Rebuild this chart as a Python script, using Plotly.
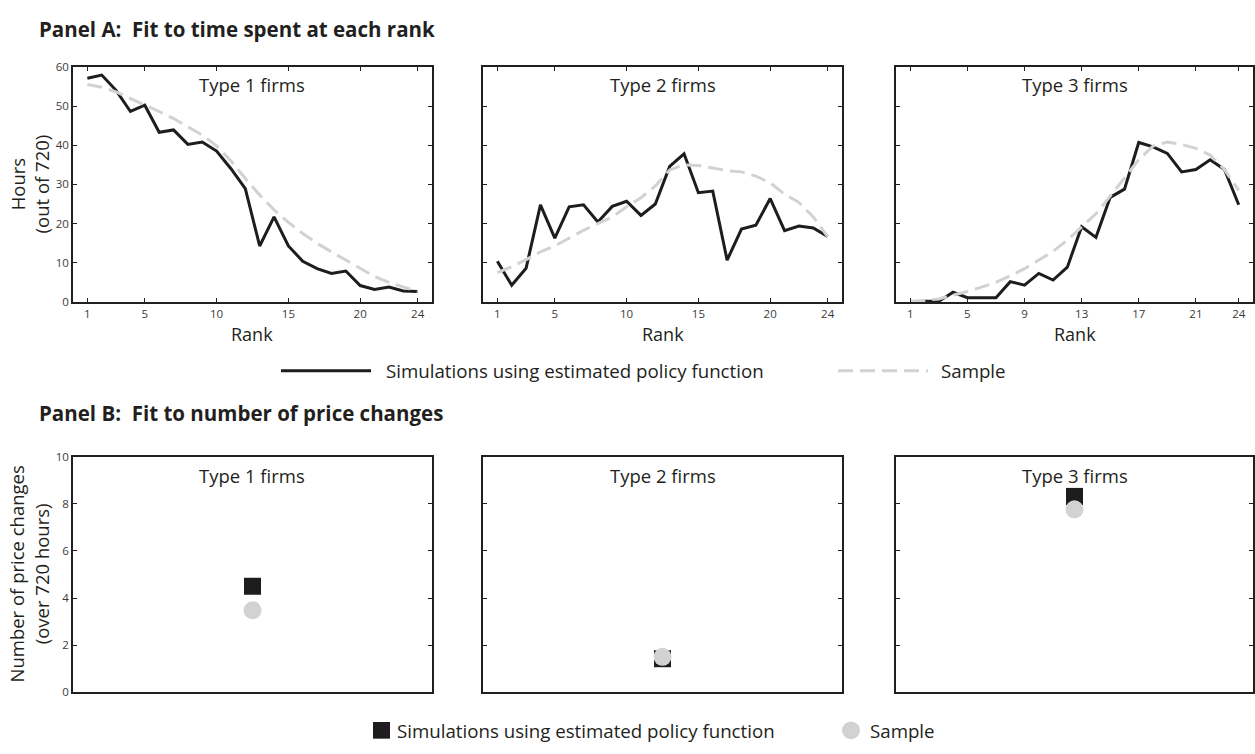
import plotly.graph_objects as go

# ---------------- data ----------------
ranks = list(range(1, 25))

type1_sim = [57.1, 57.9, 54.0, 48.6, 50.2, 43.3, 43.9, 40.2, 40.8, 38.5, 34.0, 28.9,
             14.3, 21.7, 14.3, 10.4, 8.5, 7.3, 7.9, 4.2, 3.2, 3.8, 2.8, 2.7]
type1_sample = [55.5, 54.8, 53.6, 52.0, 50.4, 48.6, 46.8, 44.8, 42.6, 39.8, 36.0, 31.5,
                27.3, 23.5, 20.3, 17.5, 15.0, 12.8, 10.7, 8.5, 6.5, 5.0, 3.8, 2.7]

type2_sim = [10.4, 4.3, 8.6, 24.8, 16.3, 24.3, 24.8, 20.4, 24.4, 25.7, 22.1, 25.0,
             34.6, 37.8, 27.9, 28.3, 10.7, 18.6, 19.6, 26.4, 18.2, 19.4, 18.9, 16.7]
type2_sample = [7.5, 9.0, 10.8, 12.8, 14.3, 16.4, 18.3, 20.0, 21.7, 24.3, 26.6, 29.6,
                33.7, 35.0, 34.8, 34.2, 33.5, 33.2, 32.1, 30.4, 27.5, 25.4, 21.7, 16.7]

type3_sim = [0.0, 0.2, 0.2, 2.5, 1.1, 1.1, 1.1, 5.2, 4.3, 7.3, 5.6, 8.9,
             19.2, 16.5, 26.7, 28.8, 40.7, 39.6, 37.9, 33.2, 33.8, 36.3, 33.8, 24.8]
type3_sample = [0.2, 0.4, 0.8, 1.7, 2.7, 3.8, 5.0, 6.7, 8.5, 10.7, 12.9, 15.8,
                19.2, 22.5, 27.0, 31.7, 36.3, 39.8, 40.8, 40.2, 39.2, 37.5, 33.8, 28.5]

firm_types = ["Type 1 firms", "Type 2 firms", "Type 3 firms"]
price_changes_sim = [4.5, 1.42, 8.32]
price_changes_sample = [3.48, 1.5, 7.77]

rank_ticks = [[1, 5, 10, 15, 20, 24], [1, 5, 10, 15, 20, 24], [1, 5, 9, 13, 17, 21, 24]]
hours_ticks = [0, 10, 20, 30, 40, 50, 60]
price_ticks = [0, 2, 4, 6, 8, 10]

sim_by_type = [type1_sim, type2_sim, type3_sim]
sample_by_type = [type1_sample, type2_sample, type3_sample]

# ---------------- styling ----------------
W, H = 1255, 754
FONT = "Open Sans"
TXT = "#231f20"
BLACK = "#1e1c1d"
GREY = "#d2d2d2"
DASH = "15px,7px"


def fx(p):
    return p / W


def fy(p):
    return 1 - p / H


col_px = [(73, 432), (483, 842), (896, 1253)]
rowA_px = (60, 300)
rowB_px = (458, 698)

fig = go.Figure()
layout = dict(
    width=W, height=H,
    margin=dict(l=0, r=0, t=0, b=0),
    paper_bgcolor="white", plot_bgcolor="white",
    showlegend=False,
    font=dict(family=FONT, color=TXT),
)

axis_common = dict(
    showline=True, linecolor=TXT, linewidth=1.5, mirror="ticks",
    ticks="inside", ticklen=4, tickwidth=1, tickcolor=TXT,
    showgrid=False, zeroline=False,
    tickfont=dict(family=FONT, size=11.5, color="#3a3a3a"),
)

annotations = []
shapes = []

# Panel A
for i in range(3):
    n = i + 1
    xa = "xaxis" if n == 1 else f"xaxis{n}"
    ya = "yaxis" if n == 1 else f"yaxis{n}"
    layout[xa] = dict(axis_common, domain=[fx(col_px[i][0]), fx(col_px[i][1])],
                      range=[0, 25], tickvals=rank_ticks[i], anchor=f"y{n if n > 1 else ''}")
    layout[ya] = dict(axis_common, domain=[fy(rowA_px[1]), fy(rowA_px[0])],
                      range=[0, 60], tickvals=hours_ticks, showticklabels=(i == 0),
                      anchor=f"x{n if n > 1 else ''}")
    xr = f"x{n if n > 1 else ''}"
    yr = f"y{n if n > 1 else ''}"
    fig.add_trace(go.Scatter(x=ranks, y=sim_by_type[i], mode="lines",
                             line=dict(color=BLACK, width=3),
                             name="Simulations using estimated policy function",
                             xaxis=xr, yaxis=yr))
    fig.add_trace(go.Scatter(x=ranks, y=sample_by_type[i], mode="lines",
                             line=dict(color=GREY, width=3, dash=DASH),
                             name="Sample", xaxis=xr, yaxis=yr))
    cx = (col_px[i][0] + col_px[i][1]) / 2
    annotations.append(dict(text=firm_types[i], x=fx(cx), y=fy(78), xref="paper", yref="paper",
                            showarrow=False, xanchor="center", yanchor="middle",
                            font=dict(size=18.5, family=FONT, color=TXT)))
    annotations.append(dict(text="Rank", x=fx(cx), y=fy(333), xref="paper", yref="paper",
                            showarrow=False, xanchor="center", yanchor="middle",
                            font=dict(size=18, family=FONT, color=TXT)))

# Panel B
for i in range(3):
    n = i + 4
    xa = f"xaxis{n}"
    ya = f"yaxis{n}"
    layout[xa] = dict(axis_common, domain=[fx(col_px[i][0]), fx(col_px[i][1])],
                      range=[0, 2], ticks="", showticklabels=False, anchor=f"y{n}")
    layout[ya] = dict(axis_common, domain=[fy(rowB_px[1]), fy(rowB_px[0])],
                      range=[0, 10], tickvals=price_ticks, showticklabels=(i == 0),
                      anchor=f"x{n}")
    fig.add_trace(go.Scatter(x=[1], y=[price_changes_sim[i]], mode="markers",
                             marker=dict(symbol="square", size=17, color=BLACK),
                             name="Simulations using estimated policy function",
                             xaxis=f"x{n}", yaxis=f"y{n}"))
    fig.add_trace(go.Scatter(x=[1], y=[price_changes_sample[i]], mode="markers",
                             marker=dict(symbol="circle", size=18, color=GREY),
                             name="Sample", xaxis=f"x{n}", yaxis=f"y{n}"))
    cx = (col_px[i][0] + col_px[i][1]) / 2
    annotations.append(dict(text=firm_types[i], x=fx(cx), y=fy(477), xref="paper", yref="paper",
                            showarrow=False, xanchor="center", yanchor="middle",
                            font=dict(size=18.5, family=FONT, color=TXT)))

# Panel titles
annotations.append(dict(text="<b>Panel A:\u00a0 Fit to time spent at each rank</b>",
                        x=fx(37), y=fy(21), xref="paper", yref="paper", showarrow=False,
                        xanchor="left", yanchor="middle", font=dict(size=20.5, family=FONT, color=TXT)))
annotations.append(dict(text="<b>Panel B:\u00a0 Fit to number of price changes</b>",
                        x=fx(37), y=fy(413), xref="paper", yref="paper", showarrow=False,
                        xanchor="left", yanchor="middle", font=dict(size=20.5, family=FONT, color=TXT)))

# Y-axis titles
annotations.append(dict(text="Hours<br>(out of 720)", x=fx(29), y=fy(180), xref="paper", yref="paper",
                        showarrow=False, textangle=-90, xanchor="center", yanchor="middle",
                        font=dict(size=18.5, family=FONT, color=TXT)))
annotations.append(dict(text="Number of price changes<br>(over 720 hours)", x=fx(29), y=fy(578),
                        xref="paper", yref="paper", showarrow=False, textangle=-90,
                        xanchor="center", yanchor="middle",
                        font=dict(size=18.5, family=FONT, color=TXT)))

# Legend A
LA = 370
shapes.append(dict(type="line", xref="paper", yref="paper", x0=fx(281), x1=fx(371), y0=fy(LA), y1=fy(LA),
                   line=dict(color=BLACK, width=3)))
annotations.append(dict(text="Simulations using estimated policy function", x=fx(384), y=fy(LA),
                        xref="paper", yref="paper", showarrow=False, xanchor="left", yanchor="middle",
                        font=dict(size=18.7, family=FONT, color=TXT)))
shapes.append(dict(type="line", xref="paper", yref="paper", x0=fx(838), x1=fx(928), y0=fy(LA), y1=fy(LA),
                   line=dict(color=GREY, width=3, dash=DASH)))
annotations.append(dict(text="Sample", x=fx(939), y=fy(LA), xref="paper", yref="paper", showarrow=False,
                        xanchor="left", yanchor="middle", font=dict(size=18.7, family=FONT, color=TXT)))

# Legend B
LB = 737
shapes.append(dict(type="rect", xref="paper", yref="paper", x0=fx(373), x1=fx(390), y0=fy(LB - 8.5),
                   y1=fy(LB + 8.5), fillcolor=BLACK, line=dict(width=0)))
annotations.append(dict(text="Simulations using estimated policy function", x=fx(395), y=fy(LB),
                        xref="paper", yref="paper", showarrow=False, xanchor="left", yanchor="middle",
                        font=dict(size=18.7, family=FONT, color=TXT)))
shapes.append(dict(type="circle", xref="paper", yref="paper", x0=fx(842), x1=fx(860), y0=fy(LB - 9),
                   y1=fy(LB + 9), fillcolor=GREY, line=dict(width=0)))
annotations.append(dict(text="Sample", x=fx(868), y=fy(LB), xref="paper", yref="paper", showarrow=False,
                        xanchor="left", yanchor="middle", font=dict(size=18.7, family=FONT, color=TXT)))

layout["annotations"] = annotations
layout["shapes"] = shapes
fig.update_layout(**layout)

fig.write_html("out.html")
